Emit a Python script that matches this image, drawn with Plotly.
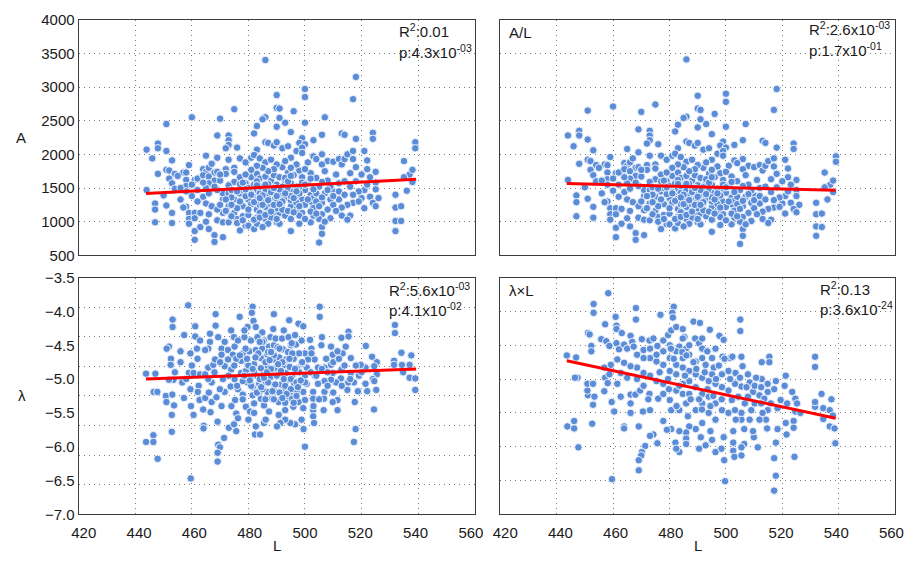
import plotly.graph_objects as go

# ---------------- data ----------------
# Top row: body length L, response A and A/L
L_top = [
    486,475,460,470,451,486,485,483,469,473,
    473,473,482,486,487,489,472,476,483,448,
    448,444,451,446,453,465,469,473,477,479,
    481,482,484,486,488,448,451,452,454,457,
    458,459,461,462,452,453,454,458,458,460,
    464,465,466,467,468,469,464,466,468,472,
    472,475,475,477,475,473,470,466,465,462,
    444,447,447,447,451,453,453,456,458,457,
    459,459,459,461,461,461,461,463,463,464,
    465,467,466,465,466,468,468,471,469,471,
    471,469,471,471,469,473,474,475,473,475,
    476,479,477,480,482,483,478,480,482,477,
    478,479,481,483,484,486,488,489,483,484,
    487,488,483,486,488,490,483,484,487,489,
    483,486,488,490,487,485,473,
    518,517,490,500,500,490,491,496,507,500,
    493,491,490,495,506,513,514,524,524,539,
    539,518,503,499,498,500,490,492,494,497,
    495,499,499,503,506,508,506,504,501,510,
    512,513,514,515,517,517,518,521,522,522,
    525,535,537,538,538,536,535,532,532,532,
    532,534,534,523,525,525,526,523,524,525,
    521,520,519,516,517,515,516,513,515,513,
    512,510,509,512,508,506,505,507,509,506,
    508,506,505,506,506,505,502,503,503,502,
    502,500,501,499,498,496,494,492,490,491,
    493,495,498,492,494,497,499,490,492,495,
    497,499,491,493,495,498,500,491,495,498,
    490,503,
    480,482,484,486,488,490,492,494,496,498,
    485,487,489,491,493,495,497,484,486,488,
    490,492,494,496,481,479,477,476,474,478,
    480,482,484,486,488,500,502,504,504,506,
    508,510,510,512,514,511,509,507,517,519,
    521,518,520,522,514,516,511,507,504,502,
    500,497,495,493,489,487,485,483,481,479,
    477,470,468,466,464,462,460,458,456,455,
    450,470,472,474,476,478,
    481,483,485,487,489,491,493,495,497,499,
    480,482,484,486,488,490,492,494,496,498,
    479,481,483,485,487,489,491,493,495,497,
    501,503,505,500,502,504,478,476,474,472,
]
A_vals = [
    3400,2670,2550,2530,2450,2550,2520,2420,2280,2280,
    2210,2140,2310,2180,2170,2130,2090,2100,2070,2160,
    2090,2070,2050,1940,1910,1980,1950,1920,1940,1880,
    1950,1990,1940,1880,1920,1710,1770,1760,1710,1730,
    1730,1840,1620,1640,1640,1570,1490,1620,1530,1550,
    1780,1740,1800,1860,1730,1740,1690,1670,1610,1780,
    1710,1800,1740,1660,1590,1540,1610,1570,1500,1470,
    1470,1270,1180,990,1240,1130,980,1330,1220,1210,
    1130,1040,970,1130,1050,860,730,920,1130,1370,
    1270,1230,1110,1000,890,800,700,770,1020,990,
    1130,1180,1330,1420,1470,1420,1470,1330,1230,1130,
    1040,940,870,940,890,970,1230,1330,1400,1420,
    1470,1570,1660,1710,1640,1670,1610,1690,1470,1420,
    1470,1400,1330,1280,1330,1250,1180,1130,1180,1130,
    1060,1040,1060,990,970,920,990,
    3150,2820,2880,2970,2850,2690,2680,2640,2550,2470,
    2470,2540,2410,2330,2290,2310,2290,2320,2230,2180,
    2090,2230,2210,2240,2170,2150,2180,2090,2120,2050,
    1950,2100,2020,1970,2000,1900,1850,1930,1880,1890,
    1930,1850,1930,2000,2050,1930,1810,2050,1910,1780,
    1740,1900,1700,1770,1590,1460,1660,1400,1210,1010,
    860,1230,1010,1660,1580,1480,1350,1370,1280,1230,
    1470,1350,1450,1520,1280,1250,1090,1090,1030,1210,
    1330,1450,1520,1570,1610,1590,1520,1420,1330,1280,
    1180,1110,1040,920,820,690,990,1090,1210,1300,
    1400,1470,1570,1660,1760,1690,1730,1810,1850,1660,
    1610,1570,1520,1470,1420,1370,1330,1330,1280,1230,
    1180,1130,1130,1090,1040,1090,1040,970,860,970,
    1040,1350,
    1500,1550,1520,1450,1500,1550,1520,1480,1450,1420,
    1350,1380,1420,1400,1360,1320,1280,1250,1220,1260,
    1200,1180,1160,1140,1260,1380,1300,1200,1360,1080,
    1100,1030,1060,1100,1150,1250,1150,1300,1420,1360,
    1470,1380,1250,1450,1400,1160,1050,1000,1400,1300,
    1200,1600,1700,1550,1600,1720,1700,1750,1650,1720,
    1780,1850,1800,1900,1780,1750,1800,1830,1770,1700,
    1560,1700,1520,1420,1580,1300,1380,1450,1500,1680,
    1390,1250,1160,1080,980,1020,
    1420,1600,1390,1560,1250,1480,1650,1380,1520,1580,
    1180,1290,1350,1550,1440,1380,1300,1600,1350,1230,
    1480,1400,1540,1250,1320,1500,1260,1420,1680,1450,
    1330,1480,1230,1550,1640,1120,1580,1450,1250,1330,
]
AL_vals = [
    3410,2740,2710,2630,2650,2560,2540,2440,2370,2350,
    2280,2210,2340,2190,2170,2130,2160,2150,2090,2350,
    2280,2280,2220,2120,2060,2080,2030,1980,1980,1920,
    1980,2010,1960,1890,1920,1860,1920,1900,1840,1850,
    1840,1960,1720,1730,1770,1690,1600,1730,1630,1640,
    1870,1830,1880,1940,1800,1810,1780,1750,1680,1840,
    1770,1850,1790,1700,1630,1590,1670,1640,1570,1550,
    1620,1390,1290,1080,1340,1220,1060,1420,1300,1290,
    1200,1110,1030,1200,1110,910,770,970,1190,1440,
    1330,1290,1160,1050,930,830,730,800,1060,1030,
    1170,1230,1380,1470,1530,1470,1510,1370,1270,1160,
    1070,960,890,960,900,980,1260,1350,1420,1450,
    1500,1600,1680,1730,1650,1680,1610,1690,1480,1430,
    1470,1400,1340,1290,1330,1250,1190,1140,1180,1130,
    1070,1040,1060,990,970,930,1020,
    2970,2660,2870,2900,2780,2680,2660,2600,2450,2410,
    2450,2520,2400,2300,2210,2200,2170,2160,2080,1970,
    1890,2100,2140,2190,2130,2100,2170,2070,2090,2010,
    1920,2050,1980,1910,1930,1830,1780,1870,1830,1810,
    1840,1760,1830,1900,1940,1820,1710,1920,1790,1660,
    1620,1730,1550,1610,1440,1330,1510,1280,1110,930,
    790,1120,920,1550,1470,1380,1250,1280,1190,1140,
    1380,1270,1360,1440,1210,1190,1030,1040,980,1150,
    1270,1390,1460,1500,1550,1530,1470,1370,1280,1230,
    1130,1070,1000,890,790,670,960,1060,1170,1260,
    1360,1430,1530,1620,1720,1660,1710,1800,1840,1650,
    1590,1550,1490,1460,1400,1350,1300,1320,1270,1210,
    1160,1110,1120,1080,1030,1070,1020,960,850,950,
    1040,1310,
    1530,1570,1530,1460,1500,1540,1510,1460,1430,1390,
    1360,1380,1420,1390,1350,1300,1260,1260,1220,1260,
    1200,1170,1150,1120,1280,1410,1330,1230,1400,1100,
    1120,1040,1070,1100,1150,1220,1120,1260,1370,1310,
    1410,1320,1200,1380,1330,1110,1010,960,1320,1220,
    1120,1510,1600,1450,1520,1630,1620,1690,1600,1670,
    1740,1820,1770,1880,1780,1750,1810,1850,1800,1730,
    1600,1770,1580,1490,1660,1370,1460,1550,1610,1800,
    1510,1300,1200,1110,1000,1040,
    1440,1620,1400,1560,1250,1470,1630,1360,1490,1550,
    1200,1310,1360,1560,1440,1370,1290,1580,1330,1210,
    1510,1420,1560,1260,1320,1500,1250,1410,1660,1420,
    1300,1440,1190,1510,1590,1080,1610,1490,1290,1380,
]

# Bottom-left: L and lambda
L_lam = [
    458.7,453.2,453.2,457.3,461.2,461.2,468.4,468.4,476.9,481.5,
    481.2,481.8,489.0,488.8,484.9,479.7,474.9,471.6,470.5,466.4,
    465.8,462.9,461.8,459.5,456.0,451.9,451.1,452.6,452.5,443.8,
    447.1,446.5,447.8,450.8,451.0,453.1,453.7,452.9,452.9,443.8,
    446.4,446.4,447.9,459.6,453.5,451.9,456.6,457.2,459.7,460.6,
    459.5,458.9,460.6,462.9,462.4,462.1,462.7,464.7,466.6,464.2,
    464.1,469.1,469.3,469.9,469.1,469.1,471.4,473.1,474.9,475.7,
    467.0,468.7,470.5,471.6,469.9,467.0,465.8,464.7,465.8,467.6,
    468.2,470.5,472.8,475.1,474.5,472.8,471.6,473.9,472.8,475.1,
    473.7,476.3,475.3,475.7,476.3,478.0,479.1,480.6,482.0,481.5,
    482.6,482.3,484.1,485.5,486.1,487.3,485.5,484.4,483.8,486.7,
    488.4,489.0,486.1,483.8,481.5,479.7,478.0,477.4,479.1,480.9,
    483.0,485.5,487.8,489.0,486.7,484.4,482.0,479.7,477.4,475.7,
    478.0,480.3,482.6,484.9,487.3,489.0,486.7,484.4,489.0,476.3,
    478.6,480.9,483.2,485.5,487.8,482.6,478.6,473.9,469.3,466.4,
    464.7,
    505.2,505.2,494.4,497.7,499.4,501.8,505.8,506.0,512.9,515.4,
    515.4,521.5,531.8,531.8,534.1,537.6,534.3,537.0,534.7,537.0,
    539.0,539.0,531.5,531.5,525.4,524.5,525.4,523.7,524.0,524.5,
    525.2,524.4,521.4,521.4,522.0,519.7,519.1,518.7,517.6,517.9,
    517.3,516.2,516.2,517.3,515.3,515.0,513.3,512.9,512.7,511.5,
    511.5,511.0,509.8,509.2,509.8,509.2,507.5,506.9,506.9,506.9,
    506.7,506.6,509.8,503.4,504.6,503.4,504.6,502.9,502.9,502.9,
    502.9,503.2,499.5,500.0,500.0,501.1,500.6,500.0,500.6,499.4,
    500.0,499.4,498.8,496.5,494.8,493.0,491.3,490.1,490.7,493.0,
    495.9,497.7,495.3,493.0,490.7,490.1,492.5,494.8,497.1,498.2,
    496.1,493.4,491.6,490.5,493.2,495.6,497.4,489.8,492.7,494.6,
    497.3,499.0,490.9,493.3,495.0,497.9,490.3,492.2,495.1,496.8,
    489.6,491.9,494.2,496.5,495.3,492.5,498.8,502.3,502.3,509.2,
    511.5,514.4,
    480,482,484,486,488,490,492,494,496,498,
    481,483,485,487,489,491,493,495,497,499,
    479,477,475,473,471,485,483,487,489,491,
    493,495,497,500,502,504,506,508,510,512,
    514,516,518,520,508,505,503,510,513,478,
    476,474,480,482,470,468,466,464,462,460,
    458,456,454,
    479.5,481.5,483.5,485.5,487.5,489.5,491.5,493.5,495.5,497.5,
    480.5,482.5,484.5,486.5,488.5,490.5,492.5,494.5,496.5,498.5,
    478.5,488.0,492.0,486.0,496.0,484.0,
]
lam_vals = [
    -3.91,-4.12,-4.23,-4.35,-4.22,-4.37,-4.04,-4.21,-4.08,-3.93,
    -4.02,-4.14,-4.04,-4.26,-4.31,-4.23,-4.38,-4.45,-4.55,-4.45,
    -4.55,-4.43,-4.55,-4.62,-4.59,-4.52,-4.55,-4.70,-4.79,-4.92,
    -4.92,-5.19,-5.19,-5.25,-5.34,-5.23,-5.39,-5.53,-5.78,-5.93,
    -5.83,-5.93,-6.18,-6.47,-5.01,-5.01,-5.05,-5.28,-5.40,-5.53,
    -5.15,-4.91,-4.91,-4.93,-5.10,-5.19,-5.31,-5.28,-5.49,-5.69,
    -5.73,-5.63,-5.97,-6.01,-6.09,-6.22,-5.87,-5.72,-5.67,-5.77,
    -5.34,-5.27,-5.40,-5.19,-5.15,-5.05,-5.00,-4.93,-4.83,-4.79,
    -4.71,-4.64,-4.57,-4.52,-4.64,-4.71,-4.81,-4.86,-4.95,-5.00,
    -5.11,-5.15,-5.31,-5.51,-5.58,-5.23,-5.41,-5.48,-5.36,-5.24,
    -5.70,-5.82,-5.82,-5.65,-5.60,-5.48,-5.39,-5.29,-5.19,-5.19,
    -5.29,-5.15,-5.05,-5.07,-5.12,-5.05,-5.03,-4.91,-4.88,-4.95,
    -4.95,-4.91,-4.97,-4.85,-4.82,-4.84,-4.78,-4.77,-4.73,-4.70,
    -4.62,-4.59,-4.57,-4.55,-4.52,-4.50,-4.64,-4.69,-4.71,-4.43,
    -4.38,-4.43,-4.38,-4.43,-4.38,-4.23,-4.28,-4.28,-4.38,-4.33,
    -4.57,
    -3.93,-4.08,-4.13,-4.18,-4.22,-4.42,-4.50,-4.38,-4.39,-4.30,
    -4.37,-4.51,-4.20,-4.32,-4.61,-4.65,-4.79,-4.79,-4.90,-4.98,
    -4.99,-5.16,-4.73,-4.79,-4.75,-4.81,-4.93,-4.67,-5.00,-5.03,
    -5.16,-5.45,-4.83,-5.07,-5.18,-4.79,-4.95,-5.18,-5.34,-5.74,
    -5.93,-4.69,-4.91,-5.05,-5.05,-5.16,-4.62,-4.86,-4.99,-5.31,
    -5.46,-5.05,-4.64,-4.79,-4.91,-5.01,-4.70,-4.83,-5.03,-5.19,
    -5.29,-5.46,-5.34,-4.71,-4.83,-4.95,-5.07,-5.19,-5.29,-5.46,
    -5.55,-5.65,-5.74,-6.00,-4.62,-4.71,-4.83,-4.95,-5.07,-5.19,
    -5.31,-5.43,-5.60,-5.67,-5.65,-5.60,-5.65,-5.70,-5.53,-5.46,
    -5.41,-5.34,-5.29,-5.29,-5.34,-5.19,-5.17,-5.19,-5.17,-5.05,
    -5.06,-5.02,-5.08,-4.95,-4.91,-4.94,-4.90,-4.83,-4.79,-4.82,
    -4.84,-4.77,-4.68,-4.71,-4.65,-4.62,-4.53,-4.56,-4.50,-4.49,
    -4.40,-4.40,-4.38,-4.35,-4.47,-4.28,-4.43,-4.55,-4.62,-4.52,
    -4.59,-4.52,
    -4.80,-4.90,-5.00,-4.75,-4.85,-4.95,-4.75,-4.60,-4.70,-4.90,
    -5.10,-5.20,-5.15,-5.05,-4.65,-4.55,-5.10,-5.00,-5.05,-4.75,
    -4.55,-4.65,-4.80,-4.95,-5.00,-4.45,-4.65,-4.60,-5.30,-5.20,
    -5.35,-5.15,-5.25,-5.05,-4.90,-4.95,-4.85,-4.90,-4.75,-4.70,
    -4.80,-5.00,-4.80,-4.90,-5.10,-5.30,-5.40,-5.20,-5.10,-5.30,
    -5.10,-5.40,-5.60,-5.50,-4.75,-4.90,-5.20,-5.45,-4.70,-4.80,
    -5.00,-4.75,-4.90,
    -4.70,-4.85,-4.62,-4.98,-4.72,-5.08,-4.88,-5.22,-4.62,-5.12,
    -5.02,-4.68,-5.12,-4.90,-5.18,-4.78,-5.00,-4.70,-4.85,-5.02,
    -4.95,-4.60,-5.28,-5.30,-5.35,-4.45,
]

# Bottom-right: L and lambda x L
L_lamL = [
    458.3,453.1,453.1,468.1,468.1,476.8,481.5,481.0,481.2,488.5,
    490.8,494.3,505.1,505.1,497.7,499.2,457.2,460.9,461.2,461.2,
    463.1,466.2,451.1,451.7,452.3,452.3,455.8,457.6,458.7,461.2,
    462.1,463.9,465.0,466.8,467.3,470.2,470.8,472.9,474.3,475.7,
    477.8,479.5,480.6,482.4,484.7,485.3,483.5,485.9,487.0,489.1,
    490.5,491.6,493.4,495.1,495.7,496.3,498.8,501.5,502.3,505.5,
    505.9,503.4,505.0,505.5,512.7,515.4,515.4,531.6,531.6,521.2,
    520.8,517.7,517.1,514.8,512.7,510.7,508.4,507.3,509.6,511.9,
    513.6,515.9,518.3,523.5,524.6,525.2,524.6,524.0,524.0,521.2,
    521.5,518.3,517.7,517.1,517.7,517.1,524.3,514.6,514.2,511.9,
    509.9,511.3,509.6,506.5,506.5,505.5,508.4,502.6,502.6,502.6,
    503.0,499.2,499.4,499.7,498.4,496.3,495.1,494.5,492.8,490.5,
    491.1,489.3,487.0,485.9,485.9,485.9,483.5,483.5,482.1,482.4,
    480.6,479.1,477.8,475.7,474.3,473.1,471.4,470.2,470.0,469.1,
    469.1,459.6,469.1,463.9,463.9,460.4,459.5,456.9,452.6,451.1,
    450.9,450.9,452.9,453.4,452.9,443.8,446.2,446.2,447.7,446.9,
    443.6,447.4,446.5,457.2,458.1,458.7,461.5,462.7,466.2,466.2,
    466.2,467.9,469.6,470.6,473.1,472.9,476.0,477.8,480.1,480.6,
    483.5,485.9,484.7,482.4,479.8,477.8,475.4,473.1,470.8,468.5,
    466.2,463.9,461.5,459.2,456.9,462.7,465.0,468.5,470.8,473.1,
    475.4,477.8,480.1,482.4,484.7,487.0,489.3,491.6,493.9,496.3,
    498.6,500.9,487.0,489.3,491.6,493.9,496.3,498.6,500.9,491.6,
    493.9,496.3,489.3,491.6,487.0,484.7,482.4,480.1,484.7,489.3,
    492.8,491.6,495.1,498.6,500.9,503.2,502.1,504.4,506.7,509.0,
    505.5,503.2,507.8,510.2,512.5,514.8,507.8,510.2,512.5,514.8,
    513.0,519.4,521.7,526.4,531.6,531.6,533.9,534.5,534.5,536.8,
    537.4,536.8,538.5,538.8,537.9,505.5,505.5,473.1,477.8,482.4,
    487.0,491.6,484.7,480.1,475.4,470.8,468.5,
    479.5,481.5,483.5,485.5,487.5,489.5,491.5,493.5,495.5,497.5,
    480.5,482.5,484.5,486.5,488.5,490.5,492.5,494.5,496.5,498.5,
    499.5,501.5,503.5,486.0,476.5,472.5,
]
lamL_vals = [
    -3.73,-3.89,-4.02,-3.95,-4.12,-4.05,-3.93,-4.02,-4.09,-4.15,
    -4.17,-4.27,-4.12,-4.29,-4.36,-4.42,-4.19,-4.08,-4.21,-4.26,
    -4.32,-4.36,-4.32,-4.34,-4.51,-4.59,-4.41,-4.44,-4.51,-4.47,
    -4.56,-4.49,-4.55,-4.45,-4.52,-4.41,-4.57,-4.43,-4.40,-4.51,
    -4.43,-4.35,-4.28,-4.23,-4.26,-4.38,-4.52,-4.55,-4.64,-4.40,
    -4.47,-4.55,-4.59,-4.69,-4.83,-4.55,-4.67,-4.69,-4.67,-4.67,
    -4.81,-4.91,-4.98,-5.11,-4.75,-4.67,-4.75,-4.67,-4.82,-4.95,
    -5.10,-5.03,-5.15,-5.19,-5.00,-4.98,-5.05,-5.12,-5.19,-5.24,
    -5.29,-5.36,-5.43,-5.19,-5.29,-5.36,-5.48,-5.62,-5.72,-5.65,
    -5.82,-5.74,-5.94,-6.17,-6.43,-6.65,-6.15,-5.73,-5.60,-5.60,
    -5.86,-6.01,-5.77,-5.74,-5.96,-5.60,-5.60,-5.77,-5.94,-6.06,
    -6.15,-5.86,-6.20,-6.51,-6.03,-6.08,-5.90,-5.77,-5.98,-6.03,
    -5.86,-5.74,-5.70,-5.79,-5.88,-5.96,-5.77,-6.08,-5.94,-6.03,
    -5.74,-5.75,-5.62,-5.95,-5.82,-5.84,-5.99,-6.08,-6.13,-6.20,
    -6.35,-6.48,-5.70,-5.70,-5.73,-5.48,-5.34,-5.18,-5.66,-5.24,
    -5.17,-5.07,-5.07,-5.26,-5.38,-5.70,-5.62,-5.73,-6.01,-4.68,
    -4.65,-4.98,-4.98,-4.98,-5.06,-4.93,-5.07,-5.26,-5.23,-5.36,
    -5.50,-5.23,-5.17,-5.48,-5.46,-5.22,-5.29,-5.22,-5.31,-5.46,
    -5.46,-5.36,-5.22,-5.17,-5.15,-5.07,-5.03,-4.95,-4.91,-4.83,
    -4.81,-4.76,-4.71,-4.79,-4.83,-4.91,-4.98,-5.00,-5.10,-4.69,
    -4.74,-4.79,-4.69,-4.79,-4.83,-4.88,-4.93,-4.98,-5.03,-5.07,
    -5.12,-5.17,-5.03,-5.12,-5.22,-5.26,-5.36,-5.46,-5.50,-5.36,
    -5.50,-5.60,-5.46,-5.65,-5.22,-5.07,-4.93,-4.88,-4.69,-4.74,
    -4.79,-4.69,-4.93,-4.93,-4.88,-5.07,-5.31,-5.26,-5.36,-5.46,
    -5.50,-5.46,-5.26,-5.36,-5.36,-5.46,-4.93,-5.10,-5.12,-5.07,
    -5.50,-5.31,-5.36,-5.50,-5.41,-5.34,-5.22,-5.43,-5.59,-5.46,
    -5.30,-5.70,-5.73,-5.95,-5.54,-6.13,-6.01,-4.55,-4.59,-4.59,
    -4.50,-4.40,-4.40,-4.50,-4.64,-4.69,-4.64,
    -5.00,-4.70,-5.10,-4.95,-5.30,-4.85,-5.45,-5.15,-5.25,-4.80,
    -4.55,-5.40,-4.60,-5.55,-4.75,-5.30,-4.90,-5.40,-5.00,-5.30,
    -4.70,-5.00,-5.60,-4.65,-4.90,-5.30,
]

# Regression lines (end points)
fit_A_L, fit_A = [443.8, 539.3], [1420, 1630]
fit_AL_L, fit_AL = [443.6, 538.9], [1566, 1466]
fit_lam_L, fit_lam = [443.8, 539.3], [-5.00, -4.85]
fit_lamL_L, fit_lamL = [443.6, 538.9], [-4.73, -5.58]

# Axis ticks
x_ticks = [420, 440, 460, 480, 500, 520, 540, 560]
x_grid = [440, 460, 480, 500, 520, 540]
top_y_ticks = [500, 1000, 1500, 2000, 2500, 3000, 3500, 4000]
bot_y_ticks = [-7.0, -6.5, -6.0, -5.5, -5.0, -4.5, -4.0, -3.5]
bot_y_text = ["\u22127.0", "\u22126.5", "\u22126.0", "\u22125.5",
              "\u22125.0", "\u22124.5", "\u22124.0", "\u22123.5"]
# bottom-left panel draws its grid in eight equal bands
bl_grid = [-3.5 - 3.5 * k / 8 for k in range(1, 8)]
# the x tick labels in the reference sit on a slightly narrower scale
# than its grid (labels 420/560 are pulled in from the frame edges)
X_LABEL_SQUEEZE = 0.9777
x_label_pos = [500 + (v - 500) * X_LABEL_SQUEEZE for v in x_ticks]

stats_text = [
    ("R<sup>2</sup>:0.01", "p:4.3x10<sup>-03</sup>"),
    ("R<sup>2</sup>:2.6x10<sup>-03</sup>", "p:1.7x10<sup>-01</sup>"),
    ("R<sup>2</sup>:5.6x10<sup>-03</sup>", "p:4.1x10<sup>-02</sup>"),
    ("R<sup>2</sup>:0.13", "p:3.6x10<sup>-24</sup>"),
]

# ---------------- styling ----------------
W, H = 915, 564
FONT = "Liberation Sans, Arial, Helvetica, sans-serif"
PT = "#5a8cd8"
OUT = "#eef2fa"
GRID = "#7a7a7a"
GDASH = "1px,4px"
FRAME = "#3c3c3c"

def px(xp):
    return xp / W

def py(yp):
    return 1 - yp / H

dom_x_left = [px(73), px(476)]
dom_x_right = [px(502), px(904)]
dom_y_top = [py(254), py(11)]
dom_y_bot = [py(521), py(277)]

fig = go.Figure()
marker = dict(size=7.5, color=PT, line=dict(width=1, color=OUT))

panels = [
    (L_top, A_vals, "x", "y"),
    (L_top, AL_vals, "x2", "y2"),
    (L_lam, lam_vals, "x3", "y3"),
    (L_lamL, lamL_vals, "x4", "y4"),
]
for xs, ys, xa, ya in panels:
    fig.add_trace(go.Scatter(x=xs, y=ys, mode="markers", marker=marker,
                             xaxis=xa, yaxis=ya, hoverinfo="skip"))

fits = [
    (fit_A_L, fit_A, "x", "y"),
    (fit_AL_L, fit_AL, "x2", "y2"),
    (fit_lam_L, fit_lam, "x3", "y3"),
    (fit_lamL_L, fit_lamL, "x4", "y4"),
]
for xs, ys, xa, ya in fits:
    fig.add_trace(go.Scatter(x=xs, y=ys, mode="lines",
                             line=dict(color="#ff0000", width=3),
                             xaxis=xa, yaxis=ya, hoverinfo="skip"))

tickfont = dict(family=FONT, size=15, color="#1a1a1a")
grid_minor_x = dict(tickmode="array", tickvals=x_grid, ticks="",
                    showgrid=True, gridcolor=GRID, griddash=GDASH,
                    gridwidth=1)

def xaxis(domain, anchor, labels):
    return dict(domain=domain, anchor=anchor, range=[420, 560],
                tickmode="array", tickvals=x_label_pos,
                ticktext=[str(v) for v in x_ticks],
                showticklabels=labels, ticks="", ticklabelstandoff=5,
                showgrid=False, minor=grid_minor_x,
                zeroline=False, showline=True, mirror=True,
                linecolor=FRAME, linewidth=1.2, tickfont=tickfont)

def yaxis_top(domain, anchor, labels):
    return dict(domain=domain, anchor=anchor, range=[500, 4000],
                tickmode="array", tickvals=top_y_ticks,
                ticktext=[str(v) for v in top_y_ticks],
                showticklabels=labels, ticks="",
                showgrid=True, gridcolor=GRID, griddash=GDASH, gridwidth=1,
                zeroline=False, showline=True, mirror=True,
                linecolor=FRAME, linewidth=1.2, tickfont=tickfont)

fig.update_layout(
    width=W, height=H,
    margin=dict(l=0, r=0, t=0, b=0),
    paper_bgcolor="white", plot_bgcolor="white",
    showlegend=False,
    font=dict(family=FONT, size=15, color="#1a1a1a"),
    xaxis=xaxis(dom_x_left, "y", False),
    yaxis=yaxis_top(dom_y_top, "x", True),
    xaxis2=xaxis(dom_x_right, "y2", False),
    yaxis2=yaxis_top(dom_y_top, "x2", False),
    xaxis3=xaxis(dom_x_left, "y3", True),
    yaxis3=dict(domain=dom_y_bot, anchor="x3", range=[-7, -3.5],
                tickmode="array", tickvals=bot_y_ticks, ticktext=bot_y_text,
                ticks="", showgrid=False, zeroline=False,
                showline=True, mirror=True, linecolor=FRAME, linewidth=1.2,
                tickfont=tickfont,
                minor=dict(tickmode="array", tickvals=bl_grid, ticks="",
                           showgrid=True, gridcolor=GRID, griddash=GDASH,
                           gridwidth=1)),
    xaxis4=xaxis(dom_x_right, "y4", True),
    yaxis4=dict(domain=dom_y_bot, anchor="x4", range=[-7, -3.5],
                tickmode="array", tickvals=bot_y_ticks, ticktext=bot_y_text,
                showticklabels=False, ticks="",
                showgrid=True, gridcolor=GRID, griddash=GDASH, gridwidth=1,
                zeroline=False, showline=True, mirror=True,
                linecolor=FRAME, linewidth=1.2, tickfont=tickfont),
)

ann = []
def text(x, y, s, size=15, xanchor="left"):
    ann.append(dict(x=px(x), y=py(y), xref="paper", yref="paper",
                    text=s, showarrow=False, xanchor=xanchor,
                    yanchor="middle", font=dict(family=FONT, size=size,
                                                color="#1a1a1a")))

# axis titles
text(14, 133, "A", 15, "center")
text(15, 399, "\u03bb", 15, "center")
text(274.5, 553, "L", 15, "center")
text(703, 553, "L", 15, "center")
# panel labels
text(509, 24, "A/L", 15)
text(509, 290, "\u03bb\u00d7L", 15)
# statistics
stat_pos = [(397, 22, 44), (814, 20, 42), (387, 289, 310), (825, 288, 309)]
for (xp, y1, y2), (r2, pv) in zip(stat_pos, stats_text):
    text(xp, y1, r2, 15)
    text(xp, y2, pv, 15)

fig.update_layout(annotations=ann)
fig.write_html("out.html")
